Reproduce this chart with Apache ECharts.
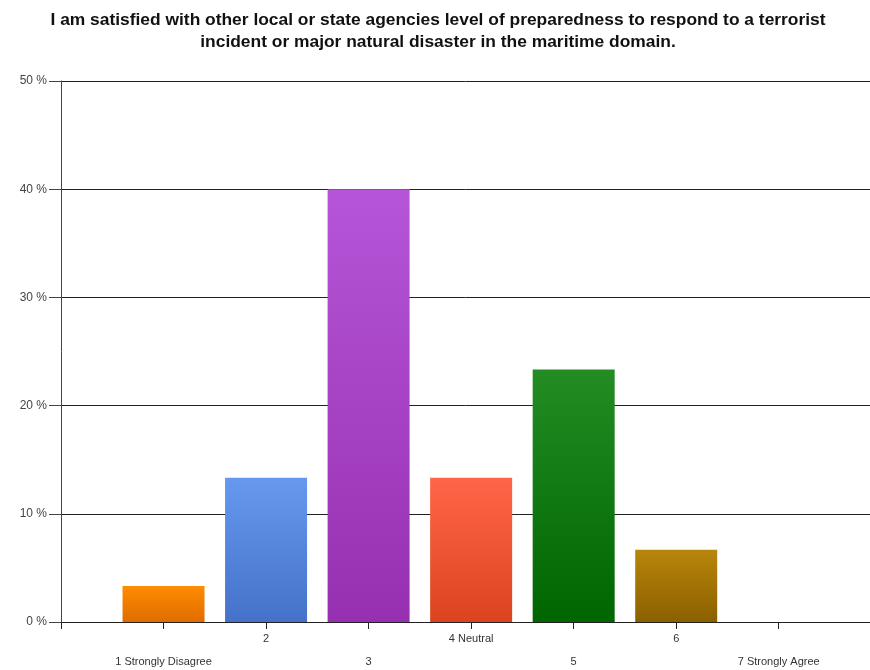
<!DOCTYPE html>
<html>
<head>
<meta charset="utf-8">
<script src="https://cdn.jsdelivr.net/npm/echarts@6/dist/echarts.min.js"></script>
<style>
  html, body { margin: 0; padding: 0; background: #fff; }
  #chart { width: 870px; height: 670px; }
</style>
</head>
<body>
<div id="chart"></div>
<script>
const categories = ['1 Strongly Disagree', '2', '3', '4 Neutral', '5', '6', '7 Strongly Agree']
const percents = [3.33, 13.33, 40, 13.33, 23.33, 6.67, 0]
const topColors = ['#ff8c00', '#6699ee', '#b655d8', '#ff6547', '#238c23', '#b8860b']
const bottomColors = ['#e06c00', '#4472c8', '#9630b0', '#dc4420', '#006600', '#8b6000']
const yTicks = [0, 10, 20, 30, 40, 50]

const chart = echarts.init(document.getElementById('chart'))

const barData = percents.map((v, i) => ({
  value: [i + 1, v],
  itemStyle: {
    color: new echarts.graphic.LinearGradient(0, 0, 0, 1, [
      {offset: 0, color: topColors[i] || '#999'},
      {offset: 1, color: bottomColors[i] || '#777'}
    ])
  }
}))

const option = {
  animation: false,
  title: {
    text: 'I am satisfied with other local or state agencies level of preparedness to respond to a terrorist\nincident or major natural disaster in the maritime domain.',
    left: 433,
    textAlign: 'center',
    top: 4,
    textStyle: {
      fontFamily: 'Liberation Sans, Arial, sans-serif',
      fontSize: 17.4,
      fontWeight: 'bold',
      color: '#111',
      lineHeight: 22
    }
  },
  grid: {
    left: 61,
    right: 0,
    top: 81,
    bottom: 48,
    containLabel: false,
    outerBoundsMode: 'none'
  },
  xAxis: {
    type: 'value',
    min: 0,
    max: 7.89,
    interval: 1,
    axisLine: {show: true, lineStyle: {color: '#222', width: 1}},
    axisTick: {show: true, length: 7, lineStyle: {color: '#222'}},
    splitLine: {show: false},
    axisLabel: {
      margin: 5,
      fontFamily: 'Liberation Sans, Arial, sans-serif',
      fontSize: 11,
      color: '#333',
      lineHeight: 23,
      showMaxLabel: false,
      formatter: function (value) {
        const name = categories[value - 1]
        if (!name) return ''
        // 奇数放在第二行
        return value % 2 === 1 ? '\n' + name : name
      }
    }
  },
  yAxis: {
    type: 'value',
    min: yTicks[0],
    max: yTicks[yTicks.length - 1],
    interval: 10,
    axisLine: {show: true, lineStyle: {color: '#444', width: 1}},
    axisTick: {show: true, length: 12, lineStyle: {color: '#444'}},
    splitLine: {show: true, lineStyle: {color: '#222', width: 1}},
    axisLabel: {
      margin: 14,
      fontFamily: 'Liberation Sans, Arial, sans-serif',
      fontSize: 12,
      color: '#444',
      formatter: '{value} %'
    }
  },
  series: [
    {
      type: 'bar',
      barWidth: 82,
      data: barData
    }
  ]
}

chart.setOption(option)
</script>
</body>
</html>
